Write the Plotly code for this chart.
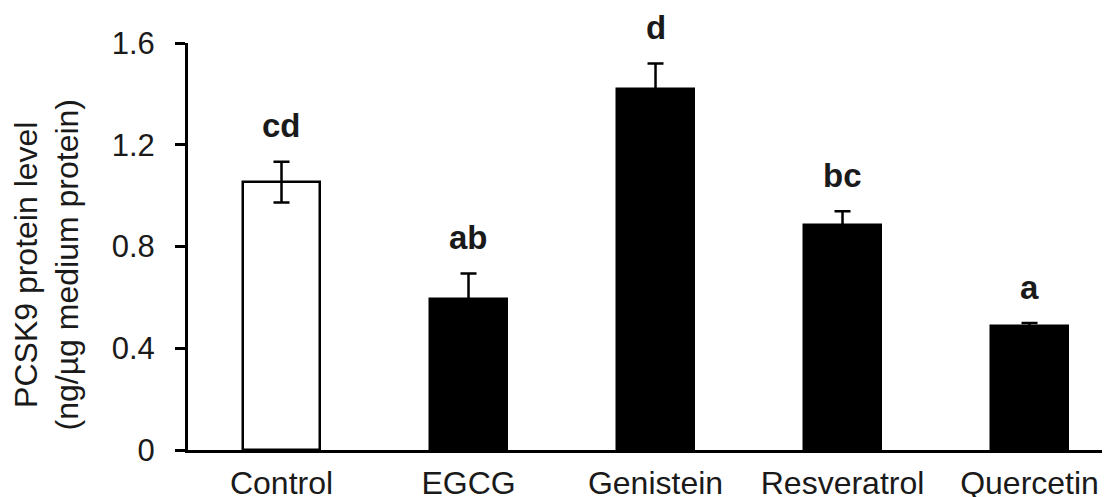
import plotly.graph_objects as go

categories = ["Control", "EGCG", "Genistein", "Resveratrol", "Quercetin"]
values = [1.053, 0.594, 1.419, 0.884, 0.487]
errors = [0.08, 0.10, 0.10, 0.055, 0.012]
letters = ["cd", "ab", "d", "bc", "a"]
fills = ["white", "black", "black", "black", "black"]
y_ticks = [0, 0.4, 0.8, 1.2, 1.6]
y_tick_labels = ["0", "0.4", "0.8", "1.2", "1.6"]

FONT = "Liberation Sans, Arial, Helvetica, sans-serif"
TXT = "#1a1a1a"

x_idx = list(range(len(categories)))

fig = go.Figure()
fig.add_trace(go.Bar(
    x=x_idx, y=values, width=0.415,
    marker=dict(color=fills, line=dict(color="black", width=2.5)),
    error_y=dict(type="data", array=errors, visible=True, color="black",
                 thickness=2.5, width=8),
    showlegend=False, cliponaxis=False,
))

for i, (v, e, t) in enumerate(zip(values, errors, letters)):
    fig.add_annotation(x=i, y=v + e, text=f"<b>{t}</b>", showarrow=False,
                       xref="x", yref="y", yanchor="middle", yshift=36,
                       font=dict(family=FONT, size=33, color=TXT))

fig.add_annotation(
    text="PCSK9 protein level<br>(ng/µg medium protein)",
    xref="paper", yref="paper", x=-0.152, y=0.455, xanchor="center", yanchor="middle",
    textangle=-90, showarrow=False,
    font=dict(family=FONT, size=32, color=TXT),
)

fig.update_layout(
    width=1110, height=497,
    margin=dict(l=180, r=0, t=35, b=55),
    plot_bgcolor="white", paper_bgcolor="white",
    bargap=0,
    font=dict(family=FONT, color=TXT),
    xaxis=dict(
        range=[-0.5, 4.473], tickmode="array", tickvals=x_idx, ticktext=categories,
        showline=True, linecolor="black", linewidth=3, ticks="",
        showgrid=False, zeroline=False, ticklabelstandoff=3, automargin=False,
        tickfont=dict(family=FONT, size=32, color=TXT),
    ),
    yaxis=dict(
        range=[0, 1.6], tickmode="array", tickvals=y_ticks, ticktext=y_tick_labels,
        showline=True, linecolor="black", linewidth=3, ticks="outside",
        ticklen=10, tickwidth=2.5, tickcolor="black", automargin=False,
        showgrid=False, zeroline=False, ticklabelstandoff=14,
        tickfont=dict(family=FONT, size=31, color=TXT),
    ),
)

fig.write_html("out.html")
